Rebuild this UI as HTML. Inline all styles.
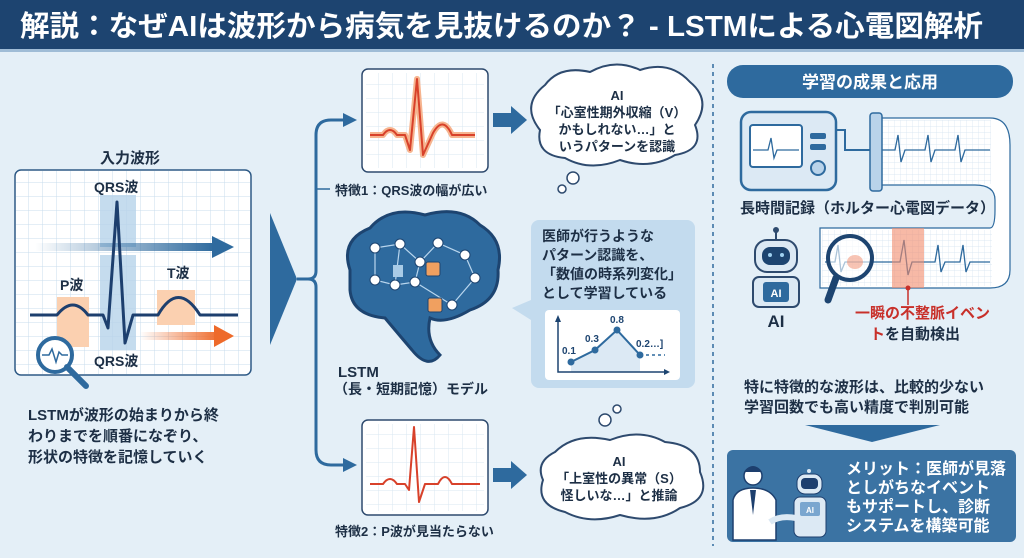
<!DOCTYPE html>
<html><head><meta charset="utf-8"><style>
html,body{margin:0;padding:0;width:1024px;height:558px;overflow:hidden;background:#e4eff7}
svg{display:block}
text{font-family:"Liberation Sans","Noto Sans CJK JP",sans-serif;font-weight:bold}
</style></head><body>
<svg width="1024" height="558" viewBox="0 0 1024 558" xmlns="http://www.w3.org/2000/svg">
<defs>
<pattern id="g" width="14" height="14" patternUnits="userSpaceOnUse"><path d="M14 0H0V14" fill="none" stroke="#c9dcec" stroke-width="1"/></pattern>
<pattern id="g2" width="6" height="6" patternUnits="userSpaceOnUse"><path d="M6 0H0V6" fill="none" stroke="#d3e2ef" stroke-width="0.7"/></pattern>
<linearGradient id="ba" x1="0" x2="1"><stop offset="0" stop-color="#2e6a9e" stop-opacity="0"/><stop offset="1" stop-color="#2e6a9e"/></linearGradient>
<linearGradient id="oa" x1="0" x2="1"><stop offset="0" stop-color="#ee6a2a" stop-opacity="0"/><stop offset="1" stop-color="#ee6a2a"/></linearGradient>
</defs>
<rect width="1024" height="558" fill="#e4eff7"/>
<rect x="0" y="0" width="1024" height="49" fill="#1d4470"/>
<rect x="0" y="49" width="1024" height="3" fill="#9fbcd6"/>
<text x="20" y="36" font-size="29" fill="#fff" textLength="963" lengthAdjust="spacingAndGlyphs">解説：なぜAIは波形から病気を見抜けるのか？ - LSTMによる心電図解析</text>

<!-- left input -->
<text x="100" y="163" font-size="15" fill="#1d2f45">入力波形</text>
<rect x="15" y="170" width="236" height="205" rx="6" fill="#fff" stroke="#2e5a86" stroke-width="1.5"/>
<rect x="16" y="171" width="234" height="203" fill="url(#g)"/>
<rect x="100" y="195" width="36" height="52" fill="#b7d3ea" opacity="0.8"/>
<rect x="100" y="255" width="36" height="95" fill="#b7d3ea" opacity="0.8"/>
<rect x="57" y="297" width="32" height="50" fill="#fbd0b0"/>
<rect x="157" y="290" width="38" height="35" fill="#fbd0b0"/>
<rect x="35" y="243" width="180" height="8" fill="url(#ba)"/>
<polygon points="212,236 234,247 212,258" fill="#2e6a9e"/>
<rect x="140" y="332" width="80" height="8" fill="url(#oa)"/>
<polygon points="214,325 234,336 214,347" fill="#ee6a2a"/>
<path d="M30 315 H57 Q73 295 88 315 H103 L108 328 L117 202 L125 343 L133 315 H158 Q178 280 200 315 H238" fill="none" stroke="#1d3f6e" stroke-width="3" stroke-linejoin="round"/>
<text x="94" y="192" font-size="14" fill="#1d2f45">QRS波</text>
<text x="60" y="290" font-size="14" fill="#1d2f45">P波</text>
<text x="167" y="278" font-size="14" fill="#1d2f45">T波</text>
<text x="94" y="366" font-size="14" fill="#1d2f45">QRS波</text>
<circle cx="55" cy="355" r="17" fill="#fff" stroke="#2e6a9e" stroke-width="4"/>
<line x1="67" y1="367" x2="86" y2="386" stroke="#2e6a9e" stroke-width="6" stroke-linecap="round"/>
<path d="M42 355 H49 L52 349 L56 362 L59 352 L62 355 H68" fill="none" stroke="#2e6a9e" stroke-width="1.5"/>
<text font-size="15" fill="#1d2f45"><tspan x="28" y="420">LSTMが波形の始まりから終</tspan><tspan x="28" y="441">わりまでを順番になぞり、</tspan><tspan x="28" y="462">形状の特徴を記憶していく</tspan></text>

<!-- triangle and branches -->
<polygon points="270,213 297,279 270,345" fill="#2e6a9e"/>
<path d="M297 279 H308 Q316 279 316 271 V135 Q316 120 331 120 H345" fill="none" stroke="#2e6a9e" stroke-width="3"/>
<path d="M308 279 Q316 279 316 287 V450 Q316 465 331 465 H345" fill="none" stroke="#2e6a9e" stroke-width="3"/>
<polygon points="343,113 357,120 343,127" fill="#2e6a9e"/>
<polygon points="343,458 357,465 343,472" fill="#2e6a9e"/>
<line x1="316" y1="189" x2="330" y2="189" stroke="#2e6a9e" stroke-width="1.5"/>

<!-- feature box 1 -->
<rect x="362" y="69" width="126" height="103" rx="6" fill="#fff" stroke="#2e4a6e" stroke-width="1.5"/>
<rect x="366" y="73" width="118" height="95" fill="url(#g)" opacity="0.7"/>
<path d="M370 135 H383 Q390 125 397 135 H405 L410 150 L417 79 L423 155 L433 133 Q443 115 452 135 H475" fill="none" stroke="#f6b48f" stroke-width="6" stroke-linejoin="round"/>
<path d="M370 135 H383 Q390 125 397 135 H405 L410 150 L417 79 L423 155 L433 133 Q443 115 452 135 H475" fill="none" stroke="#d8412a" stroke-width="2" stroke-linejoin="round"/>
<text x="335" y="195" font-size="13" fill="#1d2f45">特徴1：QRS波の幅が広い</text>

<!-- brain -->
<path d="M350 270 Q340 240 370 228 Q390 205 425 215 Q460 205 480 225 Q505 240 498 270 Q500 300 470 310 Q445 325 430 318 Q425 340 440 355 Q428 370 412 350 Q395 330 385 318 Q352 315 350 290 Z" fill="#2e6a9e" stroke="#1d4470" stroke-width="3"/>
<g stroke="#b9d6ee" stroke-width="1.2" fill="none">
<path d="M375 248 L400 244 L420 262 L438 243 L465 255 L475 278 L452 305 L415 282 L395 285 L375 280 Z M400 244 L395 285 M438 243 L420 262 L415 282"/>
</g>
<g fill="#fff" stroke="#1d4470" stroke-width="1">
<circle cx="375" cy="248" r="5"/><circle cx="400" cy="244" r="5"/><circle cx="438" cy="243" r="5"/><circle cx="465" cy="255" r="5"/><circle cx="475" cy="278" r="5"/><circle cx="452" cy="305" r="5"/><circle cx="415" cy="282" r="5"/><circle cx="395" cy="285" r="5"/><circle cx="375" cy="280" r="5"/><circle cx="420" cy="262" r="5"/>
</g>
<rect x="426" y="262" width="14" height="14" rx="2" fill="#f0a060" stroke="#1d4470"/>
<rect x="428" y="298" width="14" height="14" rx="2" fill="#f0a060" stroke="#1d4470"/>
<rect x="393" y="265" width="10" height="12" fill="#a9cbe6"/>
<text x="338" y="377" font-size="15" fill="#1d2f45">LSTM</text>
<text x="334" y="394" font-size="14" fill="#1d2f45">（長・短期記憶）モデル</text>

<!-- feature box 2 -->
<rect x="362" y="420" width="126" height="95" rx="6" fill="#fff" stroke="#2e4a6e" stroke-width="1.5"/>
<rect x="366" y="424" width="118" height="87" fill="url(#g)" opacity="0.7"/>
<path d="M370 484 H383 Q390 474 397 484 H405 L409 490 L414 427 L419 502 L425 484 H438 Q445 470 452 484 H480" fill="none" stroke="#d8412a" stroke-width="2" stroke-linejoin="round"/>
<text x="335" y="536" font-size="13" fill="#1d2f45">特徴2：P波が見当たらない</text>

<!-- arrows to bubbles -->
<rect x="493" y="113" width="18" height="14" fill="#2e6a9e"/><polygon points="511,106 527,120 511,134" fill="#2e6a9e"/>
<rect x="493" y="468" width="18" height="14" fill="#2e6a9e"/><polygon points="511,461 527,475 511,489" fill="#2e6a9e"/>

<!-- bubble 1 -->
<path d="M545 85 Q560 65 590 72 Q615 58 640 70 Q670 60 690 82 Q712 100 695 125 Q705 150 675 155 Q650 170 620 160 Q590 172 565 158 Q535 155 540 130 Q520 105 545 85Z" fill="#fff" stroke="#2e4a6e" stroke-width="2"/>
<circle cx="573" cy="178" r="6" fill="#fff" stroke="#2e4a6e" stroke-width="1.5"/>
<circle cx="562" cy="189" r="4" fill="#fff" stroke="#2e4a6e" stroke-width="1.5"/>
<text font-size="13" fill="#1d2f45" text-anchor="middle"><tspan x="617" y="100">AI</tspan><tspan x="617" y="117">「心室性期外収縮（V）</tspan><tspan x="617" y="134">かもしれない…」と</tspan><tspan x="617" y="151">いうパターンを認識</tspan></text>

<!-- info box -->
<rect x="531" y="220" width="164" height="168" rx="8" fill="#c3dbee"/>
<polygon points="531,300 512,308 531,320" fill="#c3dbee"/>
<text font-size="14" fill="#1d2f45"><tspan x="542" y="241">医師が行うような</tspan><tspan x="542" y="260">パターン認識を、</tspan><tspan x="542" y="279">「数値の時系列変化」</tspan><tspan x="542" y="298">として学習している</tspan></text>
<rect x="545" y="310" width="135" height="70" rx="4" fill="#fff"/>
<path d="M571 362 L595 350 L617 330 L640 355 V372 H571Z" fill="#dce9f4"/>
<path d="M558 318 V372 H668" fill="none" stroke="#1d4470" stroke-width="1.5"/>
<polygon points="555,322 558,315 561,322" fill="#1d4470"/><polygon points="664,369 670,372 664,375" fill="#1d4470"/>
<path d="M571 362 L595 350 L617 330 L640 355" fill="none" stroke="#2e6a9e" stroke-width="2"/>
<path d="M640 355 H665" fill="none" stroke="#2e6a9e" stroke-width="1.5" stroke-dasharray="3 3"/>
<g fill="#2e6a9e"><circle cx="571" cy="362" r="3.5"/><circle cx="595" cy="350" r="3.5"/><circle cx="617" cy="330" r="3.5"/><circle cx="640" cy="355" r="3.5"/></g>
<text font-size="10" fill="#1d4470"><tspan x="562" y="354">0.1</tspan><tspan x="585" y="342">0.3</tspan><tspan x="610" y="323">0.8</tspan><tspan x="636" y="347">0.2…]</tspan></text>

<!-- bubble 2 -->
<circle cx="617" cy="409" r="4" fill="#fff" stroke="#2e4a6e" stroke-width="1.5"/>
<circle cx="605" cy="420" r="6" fill="#fff" stroke="#2e4a6e" stroke-width="1.5"/>
<path d="M555 452 Q575 432 610 440 Q640 428 665 442 Q700 445 700 472 Q712 500 680 508 Q655 525 620 515 Q590 525 565 512 Q535 505 543 480 Q535 462 555 452Z" fill="#fff" stroke="#2e4a6e" stroke-width="2"/>
<text font-size="13" fill="#1d2f45" text-anchor="middle"><tspan x="619" y="466">AI</tspan><tspan x="619" y="483">「上室性の異常（S）</tspan><tspan x="619" y="500">怪しいな…」と推論</tspan></text>

<!-- separator -->
<line x1="713" y1="64" x2="713" y2="546" stroke="#2e6a9e" stroke-width="1.5" stroke-dasharray="4 4"/>

<!-- right -->
<rect x="727" y="65" width="286" height="33" rx="16" fill="#2e6a9e"/>
<text x="870" y="88" font-size="17" fill="#fff" text-anchor="middle">学習の成果と応用</text>

<path d="M875 118 H990 Q1010 118 1010 145 V270 Q1010 288 990 288 H820 V228 H990 Q995 228 995 210 V200 Q995 185 975 185 H875Z" fill="#fff" stroke="#2e6a9e" stroke-width="1.2"/>
<rect x="876" y="120" width="115" height="64" fill="url(#g2)"/>
<rect x="822" y="230" width="170" height="56" fill="url(#g2)"/>
<path d="M880 150 H895 L898 135 L901 162 L905 150 H925 L928 135 L931 162 L935 150 H955 L958 135 L961 162 L965 150 H990" fill="none" stroke="#2e6a9e" stroke-width="1.3"/>
<path d="M825 262 H835 L838 245 L841 272 L845 262 H900 L904 240 L908 275 L912 262 H935 L938 245 L941 272 L945 262 H960 L963 245 L966 272 L970 262 H990" fill="none" stroke="#2e6a9e" stroke-width="1.3"/>
<rect x="892" y="228" width="32" height="60" fill="#f28a6a" opacity="0.6"/>
<rect x="870" y="113" width="12" height="78" rx="3" fill="#b9d3ea" stroke="#2e6a9e" stroke-width="1.5"/>
<rect x="741" y="112" width="95" height="78" rx="10" fill="#dce9f4" stroke="#2e6a9e" stroke-width="2.5"/>
<rect x="750" y="125" width="52" height="42" rx="3" fill="#fff" stroke="#2e6a9e" stroke-width="2"/>
<path d="M753 150 H768 L771 138 L774 158 L777 150 H799" fill="none" stroke="#2e6a9e" stroke-width="1.3"/>
<rect x="810" y="133" width="16" height="6" rx="2" fill="#2e6a9e"/><rect x="810" y="144" width="16" height="6" rx="2" fill="#2e6a9e"/>
<circle cx="818" cy="168" r="7" fill="#b9d3ea" stroke="#2e6a9e" stroke-width="2"/>
<path d="M836 130 H845 V150 H870" fill="none" stroke="#2e6a9e" stroke-width="2"/>
<text x="740" y="213" font-size="15" fill="#1d2f45">長時間記録（ホルター心電図データ）</text>

<circle cx="850" cy="258" r="22" fill="#fff" fill-opacity="0.6" stroke="#1d4470" stroke-width="4"/>
<line x1="836" y1="278" x2="828" y2="300" stroke="#1d4470" stroke-width="7" stroke-linecap="round"/>
<ellipse cx="855" cy="262" rx="8" ry="7" fill="#f28a6a" opacity="0.5"/>
<line x1="908" y1="288" x2="908" y2="305" stroke="#c8302a" stroke-width="1.5"/><circle cx="908" cy="288" r="2.5" fill="#c8302a"/>
<text x="855" y="318" font-size="15" fill="#c8302a">一瞬の不整脈イベン</text>
<text x="870" y="339" font-size="15" fill="#c8302a">ト<tspan fill="#1d2f45">を自動検出</tspan></text>

<!-- robot -->
<line x1="776" y1="232" x2="776" y2="240" stroke="#2e4a6e" stroke-width="2"/><circle cx="776" cy="230" r="3" fill="#2e4a6e"/>
<rect x="755" y="240" width="42" height="32" rx="12" fill="#dce9f4" stroke="#2e4a6e" stroke-width="2"/>
<rect x="762" y="247" width="28" height="18" rx="8" fill="#1d4470"/>
<circle cx="770" cy="255" r="2" fill="#9fd0f0"/><circle cx="782" cy="255" r="2" fill="#9fd0f0"/>
<rect x="753" y="277" width="46" height="30" rx="6" fill="#dce9f4" stroke="#2e4a6e" stroke-width="2"/>
<rect x="763" y="282" width="26" height="20" rx="3" fill="#2e6a9e"/>
<text x="776" y="297" font-size="11" fill="#fff" text-anchor="middle">AI</text>
<text x="776" y="327" font-size="17" fill="#1d2f45" text-anchor="middle">AI</text>

<text font-size="15" fill="#1d2f45"><tspan x="744" y="392">特に特徴的な波形は、比較的少ない</tspan><tspan x="744" y="412">学習回数でも高い精度で判別可能</tspan></text>
<polygon points="805,425 940,425 872,442" fill="#2e6a9e"/>

<rect x="727" y="450" width="289" height="92" rx="6" fill="#3b73a3"/>
<!-- doctor -->
<circle cx="753" cy="476" r="9" fill="#fff" stroke="#1d3f6e" stroke-width="1.5"/>
<path d="M744 472 Q753 460 762 472" fill="#1d3f6e"/>
<path d="M733 540 V500 Q736 488 753 488 Q770 488 776 500 V540Z" fill="#fff" stroke="#1d3f6e" stroke-width="1.5"/>
<path d="M750 490 L753 515 L756 490" fill="#1d3f6e"/>
<!-- robot 2 -->
<circle cx="809" cy="471" r="2" fill="#dce9f4"/>
<rect x="797" y="474" width="25" height="20" rx="8" fill="#dce9f4" stroke="#1d3f6e"/>
<rect x="801" y="478" width="17" height="11" rx="4" fill="#1d3f6e"/>
<rect x="794" y="497" width="32" height="40" rx="6" fill="#dce9f4" stroke="#1d3f6e"/>
<rect x="800" y="502" width="20" height="14" rx="2" fill="#7aa6cf"/>
<text x="810" y="513" font-size="8" fill="#fff" text-anchor="middle">AI</text>
<path d="M770 522 Q780 515 796 518" stroke="#dce9f4" stroke-width="6" fill="none"/>
<text font-size="16" fill="#fff"><tspan x="846" y="474">メリット：医師が見落</tspan><tspan x="846" y="493">としがちなイベント</tspan><tspan x="846" y="512">もサポートし、診断</tspan><tspan x="846" y="531">システムを構築可能</tspan></text>
</svg>
</body></html>
